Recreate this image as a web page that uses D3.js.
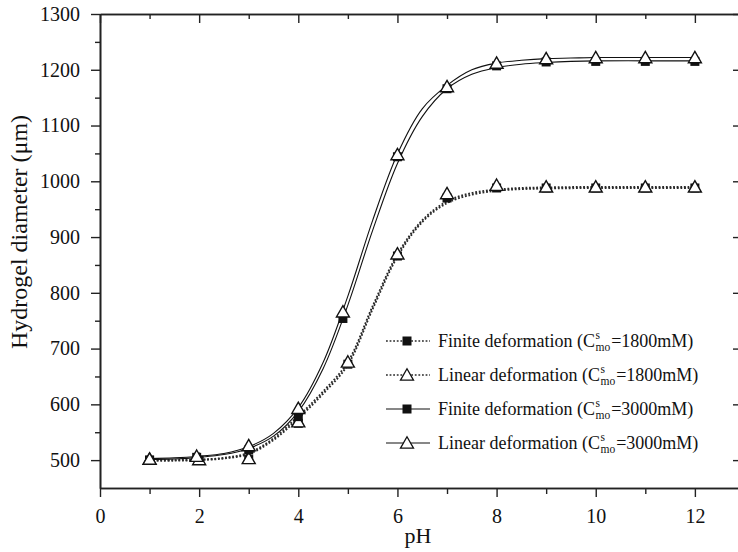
<!DOCTYPE html>
<html><head><meta charset="utf-8">
<script src="https://cdn.jsdelivr.net/npm/d3@7"></script>
<style>
body{margin:0;background:#fff}
svg{display:block}
</style>
</head><body>
<svg id="chart" width="738" height="552"></svg>
<script>
// ---------- data ----------
const xTicksMajor = [0, 2, 4, 6, 8, 10, 12];
const xTicksMinor = [1, 3, 5, 7, 9, 11];
const yTicksMajor = [500, 600, 700, 800, 900, 1000, 1100, 1200, 1300];
const yTicksMinor = [550, 650, 750, 850, 950, 1050, 1150, 1250];

// measured points
const ph1800 = [1, 2, 3, 4, 5, 6, 7, 8, 9, 10, 11, 12];
const finite1800 = [500, 500, 501, 566, 672, 866, 970, 988, 988, 988, 988, 988];
const linear1800 = [502, 501, 503, 569, 676, 870, 978, 993, 990, 990, 990, 990];
const ph3000 = [1, 1.95, 3, 4, 4.9, 6, 7, 8, 9, 10, 11, 12];
const finite3000 = [500, 505, 518, 578, 754, 1044, 1166, 1207, 1214, 1215, 1215, 1215];
const linear3000 = [502, 507, 526, 593, 766, 1048, 1170, 1212, 1220, 1222, 1222, 1222];

// model curves
const curvePH1800 = [1, 1.5, 2, 2.5, 3, 3.5, 4, 4.5, 5, 5.5, 6, 6.5, 7, 7.5, 8, 8.5, 9, 10, 11, 12];
const curveLinear1800 = [500, 500, 501, 504, 513, 539, 579, 623, 676, 776, 869, 930, 964, 979, 985, 988, 989, 990, 990, 990];
const curveFinite1800 = [499, 499, 500, 503, 511, 536, 575, 619, 671, 771, 865, 927, 961, 976, 983, 986, 987, 988, 988, 988];
const curvePH3000 = [1, 1.5, 2, 2.5, 3, 3.5, 4, 4.5, 5, 5.5, 6, 6.5, 7, 7.5, 8, 8.5, 9, 9.5, 10, 11, 12];
const curveLinear3000 = [503, 504, 507, 512, 524, 548, 594, 675, 794, 930, 1049, 1130, 1172, 1200, 1212, 1217, 1220, 1221, 1222, 1222, 1222];
const curveFinite3000 = [501, 502, 505, 510, 521, 543, 587, 664, 778, 912, 1032, 1116, 1166, 1192, 1204, 1210, 1213, 1215, 1216, 1216, 1216];

const legendLabels = ["Finite deformation (C", "Linear deformation (C", "Finite deformation (C", "Linear deformation (C"];
const legendConc = ["=1800mM)", "=1800mM)", "=3000mM)", "=3000mM)"];

// ---------- drawing ----------
const FONT = '"Liberation Serif"';
const svg = d3.select("#chart");
const x = d3.scaleLinear().domain([0, 12.89]).range([100, 739]);
const y = d3.scaleLinear().domain([450, 1300]).range([488, 14]);

function txt(sel) { return sel.style("font-family", FONT).attr("fill", "#111"); }

const axisColor = "#222";
function styleAxis(g, fs) {
  g.select(".domain").attr("stroke", axisColor).attr("stroke-width", 1.6);
  g.selectAll(".tick line").attr("stroke", axisColor).attr("stroke-width", 1.4);
  g.selectAll(".tick text").attr("font-size", fs).style("font-family", FONT).attr("fill", "#111");
}

// bottom
svg.append("g").attr("transform", "translate(0,488)")
  .call(d3.axisBottom(x).tickValues(xTicksMinor).tickSize(6).tickSizeOuter(0).tickFormat(""))
  .call(g => styleAxis(g, 20));
svg.append("g").attr("transform", "translate(0,488)")
  .call(d3.axisBottom(x).tickValues(xTicksMajor).tickSize(9).tickSizeOuter(0).tickPadding(12).tickFormat(d3.format("d")))
  .call(g => styleAxis(g, 20));
// top
svg.append("g").attr("transform", "translate(0,14)")
  .call(d3.axisTop(x).tickValues(xTicksMinor).tickSize(-5).tickSizeOuter(0).tickFormat(""))
  .call(g => styleAxis(g, 20));
svg.append("g").attr("transform", "translate(0,14)")
  .call(d3.axisTop(x).tickValues(xTicksMajor).tickSize(-9).tickSizeOuter(0).tickFormat(""))
  .call(g => styleAxis(g, 20));
// left
svg.append("g").attr("transform", "translate(100,0)")
  .call(d3.axisLeft(y).tickValues(yTicksMinor).tickSize(5).tickSizeOuter(0).tickFormat(""))
  .call(g => styleAxis(g, 20));
svg.append("g").attr("transform", "translate(100,0)")
  .call(d3.axisLeft(y).tickValues(yTicksMajor).tickSize(9).tickSizeOuter(0).tickPadding(11).tickFormat(d3.format("d")))
  .call(g => styleAxis(g, 20));
// right
svg.append("g").attr("transform", "translate(739,0)")
  .call(d3.axisRight(y).tickValues(yTicksMajor).tickSize(-6).tickSizeOuter(0).tickFormat(""))
  .call(g => styleAxis(g, 20));

// axis titles
txt(svg.append("text")).attr("transform", "rotate(-90)").attr("x", -232).attr("y", 27)
  .attr("text-anchor", "middle").attr("font-size", 24).text("Hydrogel diameter (\u03bcm)");
txt(svg.append("text")).attr("x", 418).attr("y", 543).attr("text-anchor", "middle")
  .attr("font-size", 22).text("pH");

// curves
const line = d3.line().x(d => x(d[0])).y(d => y(d[1])).curve(d3.curveCatmullRom.alpha(0.5));
const dotted = {stroke: "#2a2a2a", width: 1.9, dash: "1.8,1.8"};
const solid = {stroke: "#111", width: 1.1, dash: null};
function drawCurve(xs, ys, st) {
  svg.append("path").datum(xs.map((v, i) => [v, ys[i]]))
    .attr("d", line).attr("fill", "none")
    .attr("stroke", st.stroke).attr("stroke-width", st.width)
    .attr("stroke-dasharray", st.dash);
}
drawCurve(curvePH1800, curveFinite1800, dotted);
drawCurve(curvePH1800, curveLinear1800, dotted);
drawCurve(curvePH3000, curveFinite3000, solid);
drawCurve(curvePH3000, curveLinear3000, solid);

// markers
const triPath = "M0,-6.2L6.5,5.2L-6.5,5.2Z";
function drawSquares(xs, ys) {
  svg.append("g").selectAll("rect").data(xs.map((v, i) => [v, ys[i]])).join("rect")
    .attr("x", d => x(d[0]) - 4.5).attr("y", d => y(d[1]) - 4.5)
    .attr("width", 9).attr("height", 9).attr("fill", "#111");
}
function drawTriangles(xs, ys) {
  svg.append("g").selectAll("path").data(xs.map((v, i) => [v, ys[i]])).join("path")
    .attr("d", triPath)
    .attr("transform", d => `translate(${x(d[0])},${y(d[1])})`)
    .attr("fill", "#fff").attr("stroke", "#111").attr("stroke-width", 1.4);
}
drawSquares(ph1800, finite1800);
drawTriangles(ph1800, linear1800);
drawSquares(ph3000, finite3000);
drawTriangles(ph3000, linear3000);

// legend
const legRows = [341, 375, 409, 443];
const legStyles = [dotted, dotted, solid, solid];
const legMarkers = ["sq", "tri", "sq", "tri"];
legRows.forEach((ry, i) => {
  const st = legStyles[i];
  svg.append("line").attr("x1", 386).attr("x2", 430).attr("y1", ry).attr("y2", ry)
    .attr("stroke", st.stroke).attr("stroke-width", st.dash ? 1.6 : 1.1)
    .attr("stroke-dasharray", st.dash);
  if (legMarkers[i] === "sq") {
    svg.append("rect").attr("x", 407 - 4.5).attr("y", ry - 4.5).attr("width", 9).attr("height", 9).attr("fill", "#111");
  } else {
    svg.append("path").attr("d", triPath).attr("transform", `translate(407,${ry})`)
      .attr("fill", "#fff").attr("stroke", "#111").attr("stroke-width", 1.3);
  }
  const tx = 438, base = ry + 6, fs = 18;
  const t1 = txt(svg.append("text")).attr("x", tx).attr("y", base).attr("font-size", fs).text(legendLabels[i]);
  const w1 = t1.node().getComputedTextLength();
  txt(svg.append("text")).attr("x", tx + w1 + 0.5).attr("y", base - 8).attr("font-size", 11.5).text("s");
  const t3 = txt(svg.append("text")).attr("x", tx + w1 + 0.5).attr("y", base + 4).attr("font-size", 11.5).text("mo");
  const w3 = t3.node().getComputedTextLength();
  txt(svg.append("text")).attr("x", tx + w1 + w3 + 1.5).attr("y", base).attr("font-size", fs).text(legendConc[i]);
});
</script>
</body></html>
